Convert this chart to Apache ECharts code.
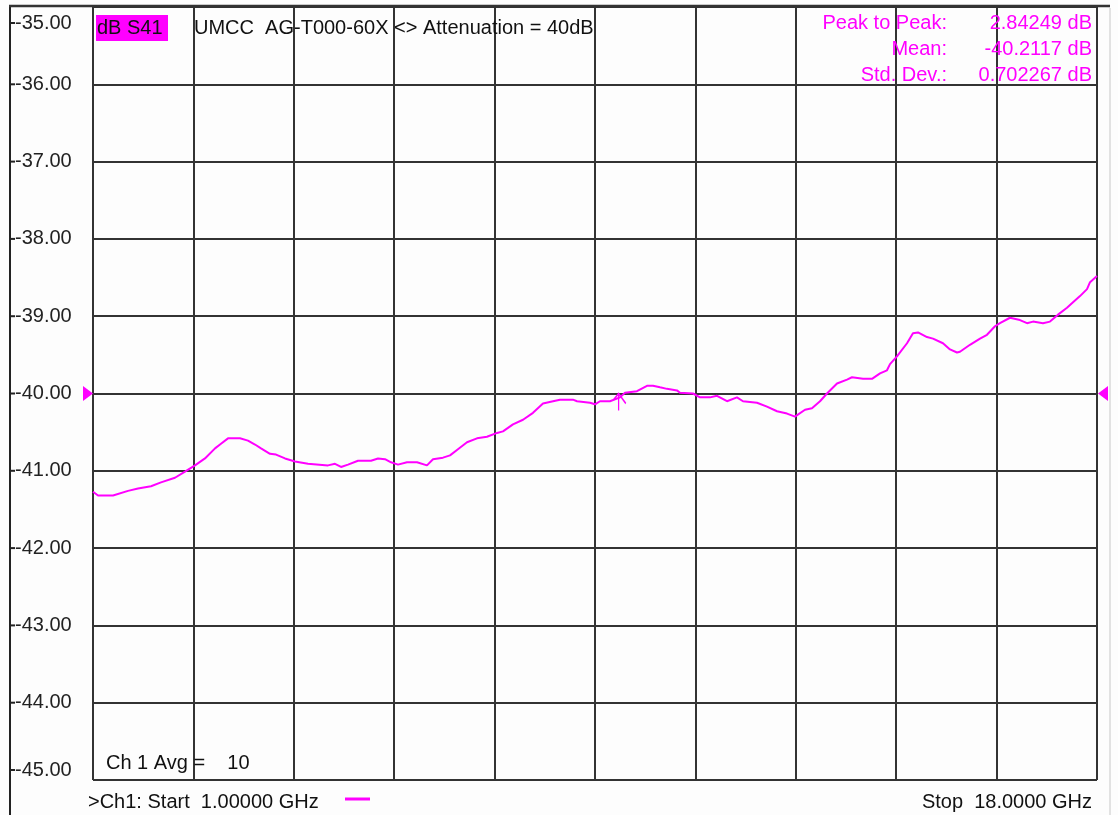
<!DOCTYPE html>
<html><head><meta charset="utf-8">
<script src="https://cdn.jsdelivr.net/npm/echarts@6/dist/echarts.min.js"></script>
<style>html,body{margin:0;padding:0;background:#fff;}#c{width:1118px;height:815px;}</style>
</head><body><div id="c"></div>
<script>
// ---- data ----
const freqGHz = [1.000,1.085,1.339,1.372,1.593,1.762,1.982,2.151,2.388,2.558,2.727,2.896,3.066,3.167,3.286,3.489,3.624,3.743,3.845,3.997,4.099,4.251,4.420,4.640,4.979,5.098,5.199,5.318,5.487,5.707,5.826,5.944,6.046,6.164,6.317,6.486,6.655,6.757,6.926,7.045,7.163,7.333,7.502,7.671,7.841,7.942,8.111,8.281,8.450,8.619,8.789,8.907,9.127,9.195,9.415,9.500,9.584,9.754,9.923,10.008,10.211,10.380,10.482,10.600,10.719,10.888,10.939,11.159,11.278,11.447,11.566,11.735,11.904,12.006,12.243,12.412,12.582,12.751,12.886,13.056,13.174,13.310,13.428,13.598,13.767,13.851,14.038,14.190,14.326,14.444,14.495,14.613,14.783,14.884,14.969,15.121,15.223,15.392,15.511,15.629,15.680,15.849,16.019,16.137,16.273,16.357,16.527,16.696,16.815,16.916,17.085,17.204,17.340,17.492,17.594,17.712,17.831,17.882,18.000];
const s41dB = [-41.27,-41.32,-41.32,-41.30,-41.26,-41.23,-41.20,-41.15,-41.09,-41.01,-40.93,-40.84,-40.71,-40.65,-40.58,-40.58,-40.61,-40.66,-40.71,-40.78,-40.79,-40.84,-40.88,-40.91,-40.93,-40.91,-40.95,-40.92,-40.87,-40.87,-40.84,-40.85,-40.89,-40.92,-40.89,-40.89,-40.93,-40.85,-40.83,-40.80,-40.73,-40.63,-40.58,-40.56,-40.51,-40.49,-40.40,-40.34,-40.25,-40.13,-40.10,-40.08,-40.08,-40.10,-40.12,-40.14,-40.10,-40.10,-40.05,-39.99,-39.97,-39.90,-39.90,-39.92,-39.94,-39.96,-39.99,-40.00,-40.05,-40.05,-40.03,-40.10,-40.05,-40.10,-40.12,-40.17,-40.23,-40.26,-40.30,-40.21,-40.19,-40.10,-40.00,-39.87,-39.82,-39.79,-39.81,-39.81,-39.74,-39.70,-39.62,-39.52,-39.35,-39.22,-39.21,-39.27,-39.29,-39.35,-39.43,-39.47,-39.46,-39.37,-39.29,-39.24,-39.13,-39.09,-39.02,-39.05,-39.09,-39.07,-39.09,-39.07,-38.98,-38.89,-38.82,-38.74,-38.65,-38.56,-38.48];
const startGHz = 1, stopGHz = 18;
const yMin = -45, yMax = -35, yStep = 1;
const xDivisions = 10;
const refLevel = -40;
const marker = [9.92, -40.0];
const traceName = 'dB S41';
const titleText = 'UMCC  AG-T000-60X <> Attenuation = 40dB';
const statLabels = ['Peak to Peak:', 'Mean:', 'Std. Dev.:'];
const statValues = ['2.84249 dB', '-40.2117 dB', '0.702267 dB'];
const avgText = 'Ch 1 Avg =    10';
const startText = '>Ch1: Start  1.00000 GHz';
const stopText = 'Stop  18.0000 GHz';

// ---- chart ----
const FF = '"Liberation Sans", Arial, sans-serif';
const MAG = '#ff00ff';
const DARK = '#222';
const GRIDC = '#333';
const chart = echarts.init(document.getElementById('c'), null, {renderer: 'canvas'});

const G = {left: 93, right: 21, top: 7, bottom: 35};
const statY = [23, 49, 75];

const graphics = [
  {type: 'line', shape: {x1: 10, y1: 5, x2: 10, y2: 815}, style: {stroke: DARK, lineWidth: 2}, z: 10},
  {type: 'line', shape: {x1: 9, y1: 6, x2: 1110, y2: 6}, style: {stroke: GRIDC, lineWidth: 2.5}, z: 10},
  {type: 'line', shape: {x1: 1110, y1: 8, x2: 1110, y2: 815}, style: {stroke: '#e2e2e2', lineWidth: 2}, z: 10},
  {type: 'rect', shape: {x: 96, y: 15, width: 72, height: 26}, style: {fill: MAG}, z: 10},
  {type: 'text', x: 97, y: 28, style: {text: traceName, font: '20px ' + FF, fill: '#111', verticalAlign: 'middle'}, z: 11},
  {type: 'text', x: 194, y: 28, style: {text: titleText, font: '20px ' + FF, fill: '#111', verticalAlign: 'middle'}, z: 11},
  {type: 'text', x: 106, y: 763, style: {text: avgText, font: '20px ' + FF, fill: '#111', verticalAlign: 'middle'}, z: 11},
  {type: 'text', x: 88, y: 802, style: {text: startText, font: '20px ' + FF, fill: '#111', verticalAlign: 'middle'}, z: 11},
  {type: 'line', shape: {x1: 345, y1: 799, x2: 370, y2: 799}, style: {stroke: MAG, lineWidth: 3}, z: 11},
  {type: 'text', x: 1092, y: 802, style: {text: stopText, font: '20px ' + FF, fill: '#111', align: 'right', verticalAlign: 'middle'}, z: 11}
];
statLabels.forEach((t, i) => {
  graphics.push({type: 'text', x: 947, y: statY[i], style: {text: t, font: '20px ' + FF, fill: MAG, align: 'right', verticalAlign: 'middle'}, z: 11});
  graphics.push({type: 'text', x: 1092, y: statY[i], style: {text: statValues[i], font: '20px ' + FF, fill: MAG, align: 'right', verticalAlign: 'middle'}, z: 11});
});

const option = {
  backgroundColor: '#fdfdfd',
  animation: false,
  grid: Object.assign({show: false, containLabel: false, outerBoundsMode: 'none'}, G),
  xAxis: [
    {type: 'value', min: startGHz, max: stopGHz, show: false},
    {type: 'value', min: 0, max: xDivisions, interval: 1, position: 'bottom',
     axisLine: {show: false}, axisTick: {show: false}, axisLabel: {show: false},
     splitLine: {show: true, lineStyle: {color: GRIDC, width: 2}}}
  ],
  yAxis: {
    type: 'value', min: yMin, max: yMax, interval: yStep,
    axisLine: {show: false}, axisTick: {show: false},
    splitLine: {show: true, lineStyle: {color: GRIDC, width: 2}},
    axisLabel: {
      show: true, align: 'left', margin: 83,
      formatter: function (v) {
        const s = v.toFixed(2);
        if (v === yMax) return '{sp32|}\n{tk|}{n|' + s + '}';
        if (v === yMin) return '{tk|}{n|' + s + '}\n{sp20|}';
        return '{tk|}{n|' + s + '}';
      },
      rich: {
        n: {fontSize: 20, fontFamily: FF, color: DARK, lineHeight: 20, verticalAlign: 'middle'},
        tk: {width: 5, height: 2, backgroundColor: DARK, verticalAlign: 'middle'},
        sp32: {lineHeight: 32, height: 32},
        sp20: {lineHeight: 20, height: 20}
      }
    }
  },
  series: [{
    type: 'line', name: traceName, xAxisIndex: 0, yAxisIndex: 0,
    data: freqGHz.map((f, i) => [f, s41dB[i]]),
    showSymbol: false, clip: false,
    lineStyle: {color: MAG, width: 2}, itemStyle: {color: MAG},
    markPoint: {
      silent: true, label: {show: false},
      data: [
        {coord: [startGHz, refLevel], symbol: 'path://M0,0 L10,7.5 L0,15 Z', symbolSize: [10, 15], symbolOffset: [-5, 0], itemStyle: {color: MAG}},
        {coord: [stopGHz, refLevel], symbol: 'path://M10,0 L0,7.5 L10,15 Z', symbolSize: [10, 15], symbolOffset: [6, 0], itemStyle: {color: MAG}},
        {coord: marker, symbol: 'path://M6,0 L6,17 M2,6 L6,0 L12,10', symbolSize: [12, 17], symbolOffset: [0, 8.5], itemStyle: {color: 'none', borderColor: MAG, borderWidth: 1.5}}
      ]
    }
  }],
  graphic: graphics
};
chart.setOption(option);
</script></body></html>
